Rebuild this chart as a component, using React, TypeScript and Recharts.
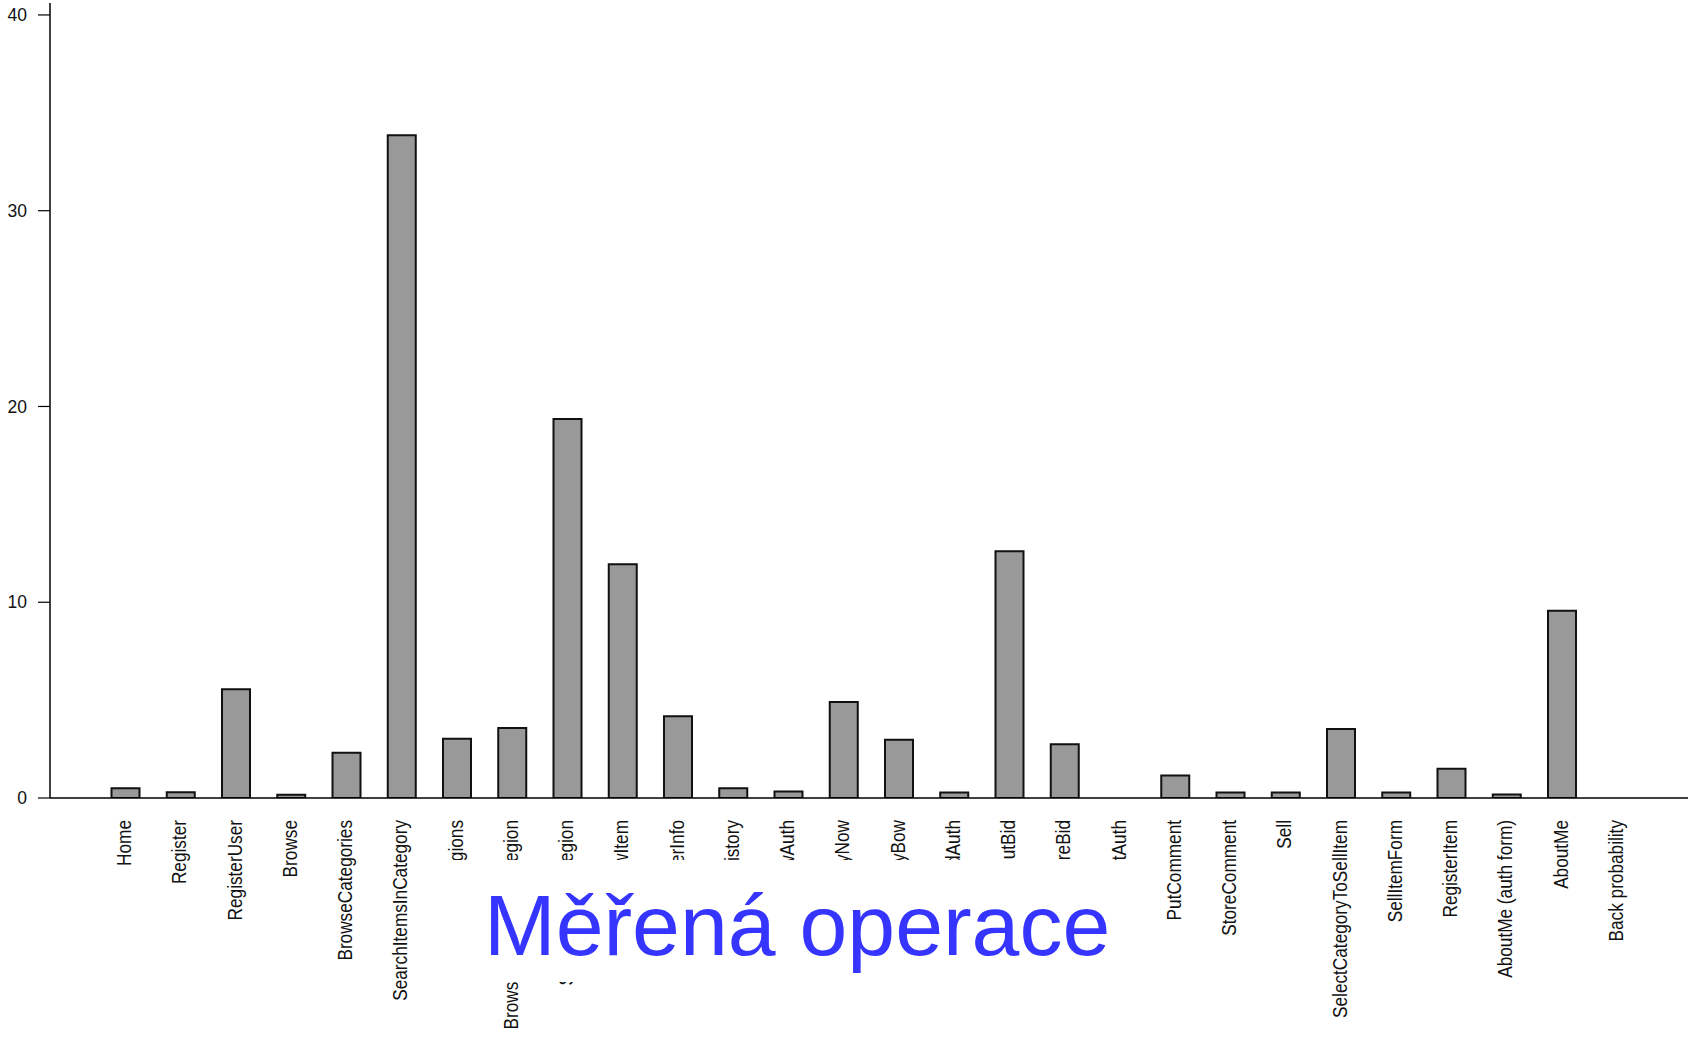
import React from "react";
import { BarChart, Bar, XAxis, YAxis } from "recharts";

const categories = [
  "Home", "Register", "RegisterUser", "Browse", "BrowseCategories",
  "SearchItemsInCategory", "BrowseRegions", "BrowseCategoriesInRegion",
  "SearchItemsInRegion", "ViewItem", "ViewUserInfo", "ViewBidHistory",
  "BuyNowAuth", "BuyNow", "StoreBuyBow", "PutBidAuth", "PutBid", "StoreBid",
  "PutCommentAuth", "PutComment", "StoreComment", "Sell",
  "SelectCategoryToSellItem", "SellItemForm", "RegisterItem",
  "AboutMe (auth form)", "AboutMe", "Back probability",
];

const values = [
  0.5, 0.29, 5.56, 0.16, 2.31,
  33.85, 3.03, 3.58,
  19.36, 11.94, 4.18, 0.5,
  0.33, 4.9, 2.97, 0.28, 12.6, 2.75,
  0, 1.15, 0.28, 0.28,
  3.52, 0.28, 1.49,
  0.18, 9.57, 0,
];

const yTicks = [0, 10, 20, 30, 40];
const titleText = "Měřená operace";

const data = categories.map((name, i) => ({ name, value: values[i] }));

const XTick = (props: any) => {
  const { x, y, payload } = props;
  return (
    <text
      x={0}
      y={0}
      transform={`translate(${x + 6}, ${y}) rotate(-90) scale(0.82, 1)`}
      textAnchor="end"
      fontFamily="'Liberation Sans', Arial, sans-serif"
      fontSize={21}
      fill="#111"
    >
      {payload.value}
    </text>
  );
};

export default function App() {
  return (
    <div style={{ position: "absolute", left: 0, top: 0, width: 1688, height: 1038, background: "#fff", overflow: "hidden" }}>
      <BarChart
        width={1688}
        height={1038}
        data={data}
        margin={{ top: 3, right: -4, bottom: 0, left: 0 }}
        barCategoryGap={0}
      >
        <XAxis
          dataKey="name"
          interval={0}
          height={240}
          tickLine={false}
          tickSize={22}
          tickMargin={0}
          tick={<XTick />}
          axisLine={{ stroke: "#000", strokeWidth: 1.5 }}
          padding={{ left: 47.5, right: 47.5 }}
        />
        <XAxis
          xAxisId="top"
          dataKey="name"
          orientation="top"
          height={0}
          tick={false}
          tickLine={false}
          axisLine={{ stroke: "#000", strokeWidth: 1.5 }}
        />
        <YAxis
          width={50}
          domain={[0, 40.61]}
          ticks={yTicks}
          interval={0}
          tickSize={12}
          tickMargin={11}
          axisLine={{ stroke: "#000", strokeWidth: 1.5 }}
          tickLine={{ stroke: "#000", strokeWidth: 1.2 }}
          tick={{ fontFamily: "'Liberation Sans', Arial, sans-serif", fontSize: 17.5, fill: "#111" }}
          allowDataOverflow
        />
        <Bar
          dataKey="value"
          fill="#999999"
          stroke="#111"
          strokeWidth={2}
          barSize={28}
          isAnimationActive={false}
        />
      </BarChart>
      <svg
        width={1688}
        height={1038}
        style={{ position: "absolute", left: 0, top: 0, pointerEvents: "none" }}
      >
        <rect x={430} y={860} width={725} height={122} fill="#fff" />
        <text
          x={484}
          y={955}
          fontFamily="'Liberation Sans', Arial, sans-serif"
          fontSize={86}
          fill="#3535ff"
        >
          {titleText}
        </text>
      </svg>
    </div>
  );
}
